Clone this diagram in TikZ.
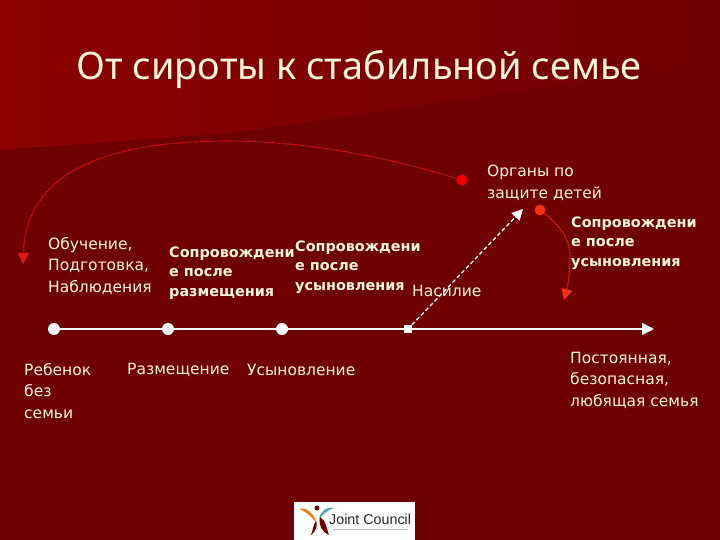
\documentclass[tikz,border=0pt]{standalone}
\usepackage{fontspec}
\setmainfont{DejaVu Sans}
\newfontfamily\titlefont{Noto Sans}
\newfontfamily\logofont{Liberation Sans}
\usetikzlibrary{arrows.meta}
\definecolor{bgtop}{HTML}{8C0000}
\definecolor{bgtopr}{HTML}{700000}
\definecolor{bgdark}{HTML}{6E0000}
\definecolor{cream}{HTML}{FFF6DC}
\definecolor{curve}{HTML}{E01818}
\definecolor{curveb}{HTML}{F03010}
\tikzset{
  plain/.style={anchor=west,align=left,inner sep=0pt,text=cream,font=\fontsize{15.5}{21.5}\selectfont},
  boldlabel/.style={anchor=west,align=left,inner sep=0pt,text=cream,font=\fontsize{14.4}{19.3}\selectfont\bfseries},
  axisdot/.style={circle,fill=white,inner sep=0pt,minimum size=12pt},
  reddot/.style={circle,fill=#1,inner sep=0pt,minimum size=11pt},
  curvy/.style={line width=1.2pt,densely dotted},
}
\begin{document}
\begin{tikzpicture}[x=1pt,y=-1pt]
\useasboundingbox (0,0) rectangle (720,540);
\fill[bgdark] (0,0) rectangle (720,540);
\shade[left color=bgtop,right color=bgtopr,shading angle=90] (0,0) -- (720,0) -- (720,62) -- (230,133) -- (0,150) -- cycle;
% title
\node[anchor=center,inner sep=0pt,text=cream,font=\titlefont\fontsize{37.9}{40}\selectfont] (title) at (359,69) {От сироты к стабильной семье};
% red curves
\node[reddot={red!95!black}] (organs) at (462,180) {};
\node[reddot={curveb}] (escort) at (540,210) {};
\coordinate (leftend) at (23,264);
\coordinate (rightend) at (564,300);
\draw[curvy,curve,-{Triangle[length=11pt,width=11pt,sep=0pt]}] (organs) .. controls (380,155) and (300,141) .. (229,141) .. controls (120,141) and (26,165) .. (leftend);
\draw[curvy,curveb,-{Triangle[length=11pt,width=11pt,sep=0pt]}] (escort) .. controls (558,224) and (571,240) .. (570,256) .. controls (570,272) and (568,285) .. (rightend);
% labels
\node[plain] (l1) at (48,266) {Обучение,\\Подготовка,\\Наблюдения};
\node[boldlabel] (l2) at (169,273) {Сопровождени\\е после\\размещения};
\node[boldlabel] (l3) at (295,267) {Сопровождени\\е после\\усыновления};
\node[plain] (l4) at (412,291) {Насилие};
\node[plain] (l5) at (487,183) {Органы по\\защите детей};
\node[boldlabel] (l6) at (571,243) {Сопровождени\\е после\\усыновления};
\node[plain] (l7) at (24,391) {Ребенок\\без\\семьи};
\node[plain] (l8) at (127,370) {Размещение};
\node[plain] (l9) at (247,370) {Усыновление};
\node[plain] (l10) at (570,380) {Постоянная,\\безопасная,\\любящая семья};
% axis
\node[axisdot] (a1) at (54,329) {};
\node[axisdot] (a2) at (168,329) {};
\node[axisdot] (a3) at (282,329) {};
\node[fill=white,inner sep=0pt,minimum size=8pt] (a4) at (408,329) {};
\coordinate (axisend) at (654,329);
\coordinate (dashend) at (523,209);
\draw[white,line width=1.5pt,-{Triangle[length=12pt,width=12pt]}] (a1) -- (a2) -- (a3) -- (a4) -- (axisend);
\draw[white,line width=1.3pt,dash pattern=on 4pt off 2.5pt,-{Triangle[length=11pt,width=11pt]}] (a4) -- (dashend);
% logo
\node[fill=white,inner sep=0pt,minimum width=121pt,minimum height=38pt,anchor=north west] (logo) at (294,502) {};
\fill[red!50!black] (317,508) circle (2.5);
\fill[orange!70!brown] (299,509) .. controls (307,506) and (315,516) .. (317,523) .. controls (312,518) and (306,511) .. (299,509) -- cycle;
\fill[red!45!black] (316,521) .. controls (318,526) and (316,531) .. (311,535) .. controls (313,530) and (313,525) .. (316,521) -- cycle;
\fill[teal!70!white] (334,508) .. controls (326,506) and (320,512) .. (319,519) .. controls (323,514) and (328,510) .. (334,508) -- cycle;
\fill[red!45!black] (320,517) .. controls (326,520) and (327,530) .. (329,535) .. controls (322,532) and (318,525) .. (320,517) -- cycle;
\node[anchor=west,inner sep=0pt,text=black!85,font=\logofont\fontsize{14.3}{14}\selectfont] (logotext) at (329,519) {Joint Council};
\draw[black!30,line width=1pt] (333,529) -- (408,529);
\end{tikzpicture}
\end{document}
